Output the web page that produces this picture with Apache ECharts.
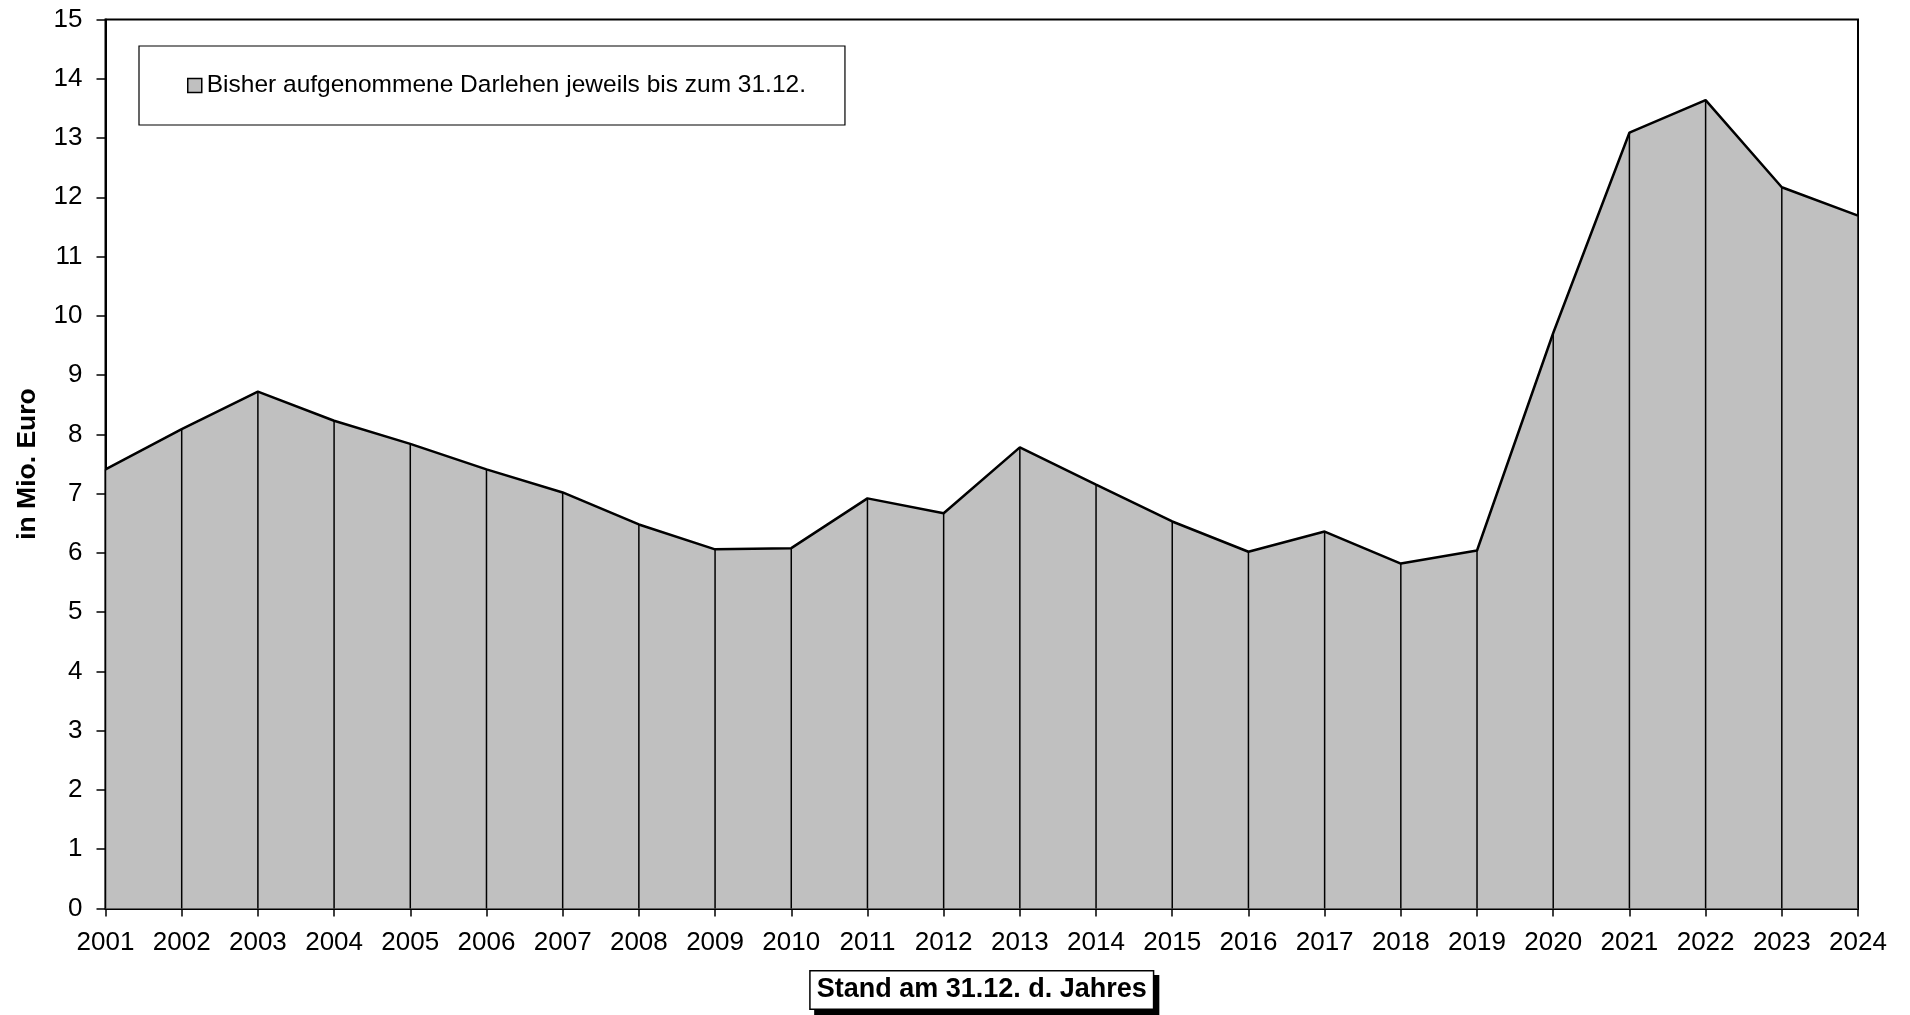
<!DOCTYPE html>
<html><head><meta charset="utf-8">
<script src="https://cdn.jsdelivr.net/npm/echarts@6/dist/echarts.min.js"></script>
<style>html,body{margin:0;padding:0;background:#fff}#c{width:1910px;height:1015px}</style>
</head><body><div id="c"></div>
<script>
const years = ['2001','2002','2003','2004','2005','2006','2007','2008','2009','2010','2011','2012','2013','2014','2015','2016','2017','2018','2019','2020','2021','2022','2023','2024'];
const darlehen = [7.41,8.09,8.72,8.23,7.84,7.41,7.02,6.48,6.06,6.08,6.92,6.67,7.78,7.15,6.53,6.02,6.36,5.82,6.04,9.71,13.09,13.64,12.17,11.69];
const seriesName = 'Bisher aufgenommene Darlehen jeweils bis zum 31.12.';
const xTitle = 'Stand am 31.12. d. Jahres';
const yTitle = 'in Mio. Euro';
const FONT = 'Liberation Sans, Arial, sans-serif';

const chart = echarts.init(document.getElementById('c'), null, {renderer:'canvas'});
chart.setOption({
  animation:false,
  backgroundColor:'#fff',
  grid:{left:105.5,right:52,top:19.5,bottom:106,show:true,borderColor:'#000',borderWidth:2,backgroundColor:'transparent'},
  legend:{
    data:[{name:seriesName,icon:'rect',itemStyle:{color:'#c0c0c0',borderColor:'#000',borderWidth:1.5}}],
    left:139, top:46,
    padding:[27,39,27,48],
    borderColor:'#000', borderWidth:1.2, backgroundColor:'#fff',
    itemWidth:14, itemHeight:14,
    textStyle:{fontFamily:FONT,fontSize:24.5,color:'#000'},
    selectedMode:false
  },
  xAxis:{
    type:'category', data:years, boundaryGap:false,
    axisLine:{lineStyle:{color:'#000',width:2}},
    axisTick:{show:true,length:8,lineStyle:{color:'#000',width:1.5}},
    axisLabel:{fontFamily:FONT,fontSize:26,color:'#000',margin:21,interval:0},
    splitLine:{show:false},
    name:xTitle, nameLocation:'middle', nameGap:63,
    nameTextStyle:{fontFamily:FONT,fontSize:27,fontWeight:'bold',color:'#000',
      backgroundColor:'#fff',borderColor:'#000',borderWidth:1.5,padding:[5,6,5,6],
      shadowColor:'#000',shadowBlur:0,shadowOffsetX:5,shadowOffsetY:5}
  },
  yAxis:{
    type:'value', min:0, max:15, interval:1,
    axisLine:{show:true,lineStyle:{color:'#000',width:2}},
    axisTick:{show:true,length:9,lineStyle:{color:'#000',width:1.5}},
    axisLabel:{fontFamily:FONT,fontSize:26,color:'#000',margin:23},
    splitLine:{show:false},
    name:yTitle, nameLocation:'middle', nameGap:64, nameRotate:90,
    nameTextStyle:{fontFamily:FONT,fontSize:26.5,fontWeight:'bold',color:'#000'}
  },
  series:[
    {name:seriesName,type:'line',data:darlehen,symbol:'none',z:2,
     lineStyle:{color:'#000',width:2.5},
     itemStyle:{color:'#c0c0c0'},
     areaStyle:{color:'#c0c0c0',opacity:1}},
    {name:'drop',type:'bar',data:darlehen,barWidth:1.5,z:3,
     itemStyle:{color:'#000'},silent:true}
  ]
});
</script></body></html>
